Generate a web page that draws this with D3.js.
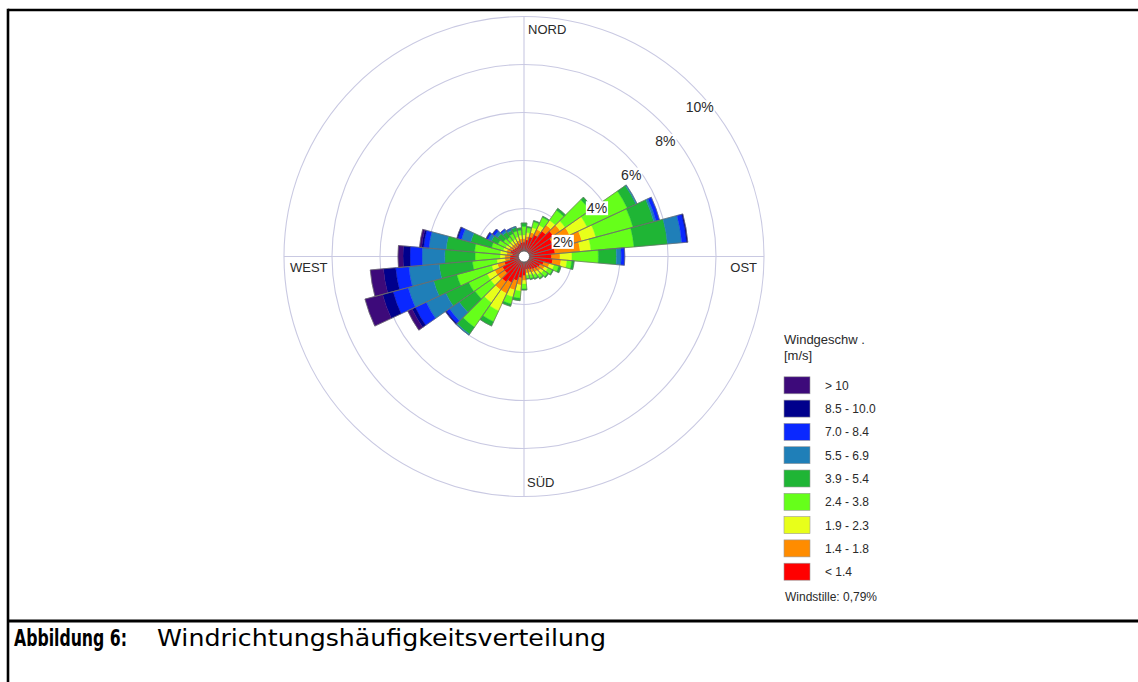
<!DOCTYPE html>
<html>
<head>
<meta charset="utf-8">
<script src="https://cdn.jsdelivr.net/npm/d3@7"></script>
<style>
  body { margin: 0; background: #fff; }
  svg { display: block; }
  text { font-family: "Liberation Sans", Arial, sans-serif; fill: #2a2a2a; }
  text.caption { font-family: "Liberation Sans Narrow", "DejaVu Sans Condensed", "Liberation Sans", sans-serif; fill: #000; }
</style>
</head>
<body>
<div id="chart"></div>
<script>
// wind directions (deg, clockwise from north), 10 degree sectors
const directions = d3.range(0, 360, 10);

// speed classes, lowest first
const speedClasses = ['< 1.4', '1.4 - 1.8', '1.9 - 2.3', '2.4 - 3.8', '3.9 - 5.4',
                      '5.5 - 6.9', '7.0 - 8.4', '8.5 - 10.0', '> 10'];
const classColors = ['#ff0000', '#ff8c00', '#e8ff1a', '#66ff1a', '#1fb535',
                     '#1f7fb8', '#0a28ff', '#00008c', '#3d0a7a'];

// frequency in % per direction (0..350) for each speed class
const fLt14  = [.6, .7, .85, 1.0, 1.3, 1.5, 1.3, 1.5, 1.3, 1.15, 1.2, .85, .75, .7, .65, .6, .55, .55,
                .8, .9, 1.05, 1.2, 1.3, 1.0, 1.0, .85, .6, .58, .5, .6, .55, .5, .5, .5, .55, .6];
const f14_18 = [.15, .15, .2, .25, .3, .35, .8, 1.0, 1.05, .35, .35, .25, .2, .15, .15, .15, .15, .15,
                .2, .3, .4, .5, .4, .35, .35, .3, .2, .22, .22, .15, .15, .15, .15, .15, .15, .15];
const f19_23 = [.15, .15, .2, .2, .25, .25, .8, .6, .45, .5, .25, .2, .15, .15, .15, .1, .1, .1,
                .15, .25, .3, .8, .65, .35, .35, .25, .34, .2, .28, .15, .15, .15, .15, .15, .15, .15];
const f24_38 = [.35, .2, .25, .35, .5, 1.25, 1.85, 1.6, 1.8, 1.1, .2, .2, .2, .2, .15, .15, .15, .12,
                .2, .3, .3, .5, 1.25, .8, .85, 1.5, 1.02, 1.04, 1.07, .5, .35, .25, .2, .25, .25, .2];
const f39_54 = [.15, .05, .05, .05, .1, .15, .4, .9, 1.4, .75, .1, .1, .05, .05, .05, .05, .05, .03,
                .05, .1, .1, .2, .35, .8, 1.05, 1.0, 1.39, 1.26, 1.19, .9, .3, .3, .25, .15, .15, .1];
const f55_69 = [0, 0, 0, 0, 0, 0, .05, .1, .6, .2, 0, 0, 0, 0, 0, 0, 0, 0,
                0, 0, 0, 0, .05, .5, .9, 1.1, 1.27, .95, .72, .4, .15, .15, .1, .08, .05, 0];
const f70_84 = [0, 0, 0, 0, 0, 0, 0, .15, .2, .15, 0, 0, 0, 0, 0, 0, 0, 0,
                0, 0, 0, 0, 0, .15, .5, .65, .55, .5, .22, .15, .07, .1, .05, .02, 0, 0];
const f85_100 = [0, 0, 0, 0, 0, 0, 0, 0, .05, 0, 0, 0, 0, 0, 0, 0, 0, 0,
                 0, 0, 0, 0, 0, .05, .15, .45, .51, .29, .08, .05, .03, .02, 0, 0, 0, 0];
const fGt10  = [0, 0, 0, 0, 0, 0, 0, 0, 0, 0, 0, 0, 0, 0, 0, 0, 0, 0,
                0, 0, 0, 0, 0, 0, .2, .76, .55, .21, .09, 0, 0, 0, 0, 0, 0, 0];
const seriesValues = [fLt14, f14_18, f19_23, f24_38, f39_54, f55_69, f70_84, f85_100, fGt10];

const ringTicks = [2, 4, 6, 8, 10];
const compassLabels = ['NORD', 'OST', 'SÜD', 'WEST'];
const legendTitle = ['Windgeschw .', '[m/s]'];
const calmText = 'Windstille: 0,79%';
const captionLabel = 'Abbildung 6:';
const captionText = 'Windrichtungshäufigkeitsverteilung';

const W = 1138, H = 682;
const cx = 524, cy = 256.5, R = 240;

const svg = d3.select('#chart').append('svg')
  .attr('width', W)
  .attr('height', H);

// frame + caption
svg.append('line').attr('x1', 8).attr('x2', W).attr('y1', 10).attr('y2', 10)
  .attr('stroke', '#000').attr('stroke-width', 2.6);
svg.append('line').attr('x1', 8).attr('x2', 8).attr('y1', 8.7).attr('y2', H)
  .attr('stroke', '#000').attr('stroke-width', 2.6);
svg.append('line').attr('x1', 8).attr('x2', W).attr('y1', 621).attr('y2', 621)
  .attr('stroke', '#000').attr('stroke-width', 3);

svg.append('text')
  .attr('class', 'caption')
  .attr('x', 14).attr('y', 646)
  .attr('font-size', 23).attr('font-weight', 'bold')
  .attr('textLength', 113).attr('lengthAdjust', 'spacingAndGlyphs')
  .text(captionLabel);
svg.append('text')
  .attr('class', 'caption')
  .attr('x', 157).attr('y', 646)
  .attr('font-size', 23)
  .attr('textLength', 449).attr('lengthAdjust', 'spacingAndGlyphs')
  .text(captionText);

// polar scale
const r = d3.scaleLinear().domain([0, 10]).range([0, R]);
const rad = d => d * Math.PI / 180;

const g = svg.append('g').attr('transform', `translate(${cx},${cy})`);

// grid rings and axes
g.selectAll('circle.ring')
  .data(ringTicks)
  .enter()
  .append('circle')
  .attr('class', 'ring')
  .attr('r', d => r(d))
  .attr('fill', 'none')
  .attr('stroke', '#c9c9e2')
  .attr('stroke-width', 1.1);

g.append('line').attr('x1', 0).attr('x2', 0).attr('y1', -R).attr('y2', R)
  .attr('stroke', '#c9c9e2').attr('stroke-width', 1.1);
g.append('line').attr('x1', -R).attr('x2', R).attr('y1', 0).attr('y2', 0)
  .attr('stroke', '#c9c9e2').attr('stroke-width', 1.1);

// stacked sectors
const stacked = directions.map((dir, i) => {
  let acc = 0;
  return seriesValues.map((s, k) => {
    const y0 = acc;
    acc += s[i];
    return { dir, k, y0, y1: acc };
  });
});

const arc = d3.arc()
  .innerRadius(d => r(d.y0))
  .outerRadius(d => r(d.y1))
  .startAngle(d => rad(d.dir - 5))
  .endAngle(d => rad(d.dir + 5));

g.selectAll('path.seg')
  .data(stacked.flat().filter(d => d.y1 > d.y0))
  .enter()
  .append('path')
  .attr('class', 'seg')
  .attr('d', arc)
  .attr('fill', d => classColors[d.k])
  .attr('stroke', d => classColors[d.k])
  .attr('stroke-width', 0.4);

g.selectAll('path.outline')
  .data(stacked.map(s => ({ dir: s[0].dir, y0: 0, y1: s[s.length - 1].y1 })))
  .enter()
  .append('path')
  .attr('class', 'outline')
  .attr('d', arc)
  .attr('fill', 'none')
  .attr('stroke', '#6b6b6b')
  .attr('stroke-width', 0.7);

// calm circle
g.append('circle')
  .attr('r', 5.5)
  .attr('fill', '#fff')
  .attr('stroke', '#555')
  .attr('stroke-width', 0.8);

// ring labels along ~45 deg
const la = rad(44.5);
const ringLbl = g.selectAll('g.rlab')
  .data(ringTicks)
  .enter()
  .append('g')
  .attr('class', 'rlab')
  .attr('transform', d => `translate(${r(d) * Math.cos(la) + 4.5},${-r(d) * Math.sin(la) + 19})`);

ringLbl.append('text')
  .attr('text-anchor', 'middle')
  .attr('y', 5)
  .attr('font-size', 14)
  .text(d => d + '%')
  .each(function () {
    const b = this.getBBox();
    d3.select(this.parentNode).insert('rect', 'text')
      .attr('x', b.x - 1).attr('y', b.y + 1)
      .attr('width', b.width + 2).attr('height', b.height - 2)
      .attr('fill', '#fff');
  });

// compass labels
const compassPos = [
  { x: 4, y: -R + 17, anchor: 'start' },
  { x: R - 7, y: 15, anchor: 'end' },
  { x: 3, y: R - 10, anchor: 'start' },
  { x: -R + 6, y: 15, anchor: 'start' }
];
g.selectAll('text.compass')
  .data(compassLabels)
  .enter()
  .append('text')
  .attr('class', 'compass')
  .attr('x', (d, i) => compassPos[i].x)
  .attr('y', (d, i) => compassPos[i].y)
  .attr('text-anchor', (d, i) => compassPos[i].anchor)
  .attr('font-size', 13)
  .text(d => d);

// legend
const lx = 784;
const legend = svg.append('g');
legend.selectAll('text.ltitle')
  .data(legendTitle)
  .enter()
  .append('text')
  .attr('class', 'ltitle')
  .attr('x', lx)
  .attr('y', (d, i) => 344 + i * 16)
  .attr('font-size', 13)
  .text(d => d);

const legendRows = speedClasses.map((s, k) => ({ label: s, color: classColors[k] })).reverse();
const rowY = d3.scaleLinear().domain([0, 1]).range([385.3, 408.6]);

const rows = legend.selectAll('g.row')
  .data(legendRows)
  .enter()
  .append('g')
  .attr('class', 'row')
  .attr('transform', (d, i) => `translate(${lx},${rowY(i)})`);

rows.append('rect')
  .attr('x', 0).attr('y', -8.5)
  .attr('width', 26).attr('height', 17)
  .attr('fill', d => d.color)
  .attr('stroke', '#999')
  .attr('stroke-width', 0.6);

rows.append('text')
  .attr('x', 41).attr('y', 4.5)
  .attr('font-size', 12)
  .text(d => d.label);

legend.append('text')
  .attr('x', lx + 1).attr('y', 601)
  .attr('font-size', 12)
  .text(calmText);
</script>
</body>
</html>
